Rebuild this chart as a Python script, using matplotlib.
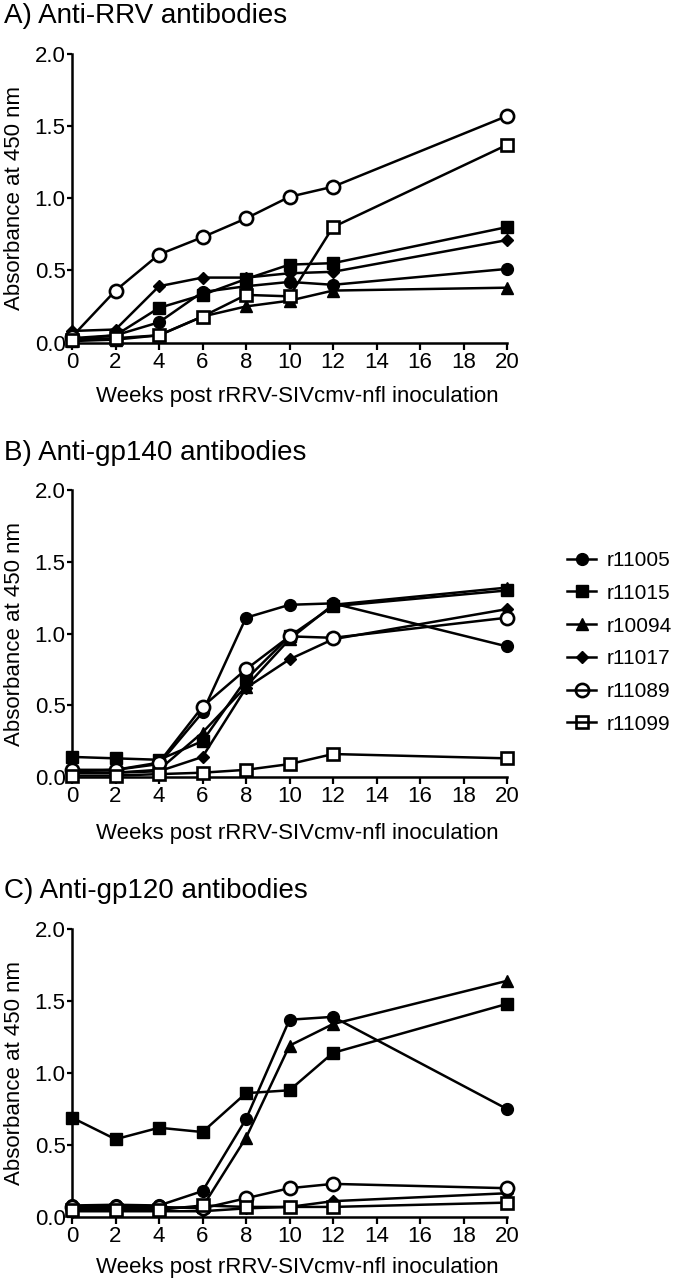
import matplotlib
matplotlib.use("Agg")
import matplotlib.pyplot as plt
from matplotlib.lines import Line2D
from matplotlib.ticker import FormatStrFormatter

plt.rcParams['font.family'] = ['Liberation Sans', 'DejaVu Sans']

weeks = [0, 2, 4, 6, 8, 10, 12, 20]
animals = ["r11005", "r11015", "r10094", "r11017", "r11089", "r11099"]

panel_titles = ["A) Anti-RRV antibodies", "B) Anti-gp140 antibodies", "C) Anti-gp120 antibodies"]
x_label = "Weeks post rRRV-SIVcmv-nfl inoculation"
y_label = "Absorbance at 450 nm"
x_ticks = [0, 2, 4, 6, 8, 10, 12, 14, 16, 18, 20]
y_ticks = [0.0, 0.5, 1.0, 1.5, 2.0]

# Panel A: anti-RRV
rrv_r11005 = [0.03, 0.05, 0.14, 0.35, 0.39, 0.42, 0.40, 0.51]
rrv_r11015 = [0.02, 0.05, 0.24, 0.33, 0.44, 0.54, 0.55, 0.80]
rrv_r10094 = [0.01, 0.02, 0.05, 0.18, 0.25, 0.29, 0.36, 0.38]
rrv_r11017 = [0.08, 0.09, 0.39, 0.45, 0.45, 0.48, 0.49, 0.71]
rrv_r11089 = [0.04, 0.36, 0.61, 0.73, 0.86, 1.01, 1.08, 1.57]
rrv_r11099 = [0.02, 0.03, 0.05, 0.18, 0.33, 0.32, 0.80, 1.37]

# Panel B: anti-gp140
gp140_r11005 = [0.04, 0.05, 0.09, 0.45, 1.11, 1.20, 1.21, 0.91]
gp140_r11015 = [0.14, 0.13, 0.12, 0.25, 0.68, 0.98, 1.19, 1.30]
gp140_r10094 = [0.03, 0.03, 0.05, 0.31, 0.63, 0.96, 1.20, 1.32]
gp140_r11017 = [0.03, 0.03, 0.04, 0.14, 0.62, 0.82, 0.96, 1.17]
gp140_r11089 = [0.05, 0.05, 0.10, 0.49, 0.75, 0.98, 0.97, 1.11]
gp140_r11099 = [0.01, 0.01, 0.02, 0.03, 0.05, 0.09, 0.16, 0.13]

# Panel C: anti-gp120
gp120_r11005 = [0.08, 0.085, 0.08, 0.18, 0.68, 1.37, 1.39, 0.75]
gp120_r11015 = [0.69, 0.54, 0.62, 0.59, 0.86, 0.88, 1.14, 1.48]
gp120_r10094 = [0.06, 0.06, 0.06, 0.07, 0.55, 1.19, 1.34, 1.64]
gp120_r11017 = [0.04, 0.04, 0.04, 0.04, 0.06, 0.07, 0.11, 0.165]
gp120_r11089 = [0.07, 0.07, 0.07, 0.06, 0.13, 0.20, 0.23, 0.20]
gp120_r11099 = [0.05, 0.05, 0.05, 0.08, 0.07, 0.07, 0.07, 0.10]

panels = [
    [rrv_r11005, rrv_r11015, rrv_r10094, rrv_r11017, rrv_r11089, rrv_r11099],
    [gp140_r11005, gp140_r11015, gp140_r10094, gp140_r11017, gp140_r11089, gp140_r11099],
    [gp120_r11005, gp120_r11015, gp120_r10094, gp120_r11017, gp120_r11089, gp120_r11099],
]

# marker styles: (marker, size, filled)
styles = [("o", 8.5, True), ("s", 8.0, True), ("^", 9.0, True),
          ("D", 6.5, True), ("o", 9.5, False), ("s", 9.0, False)]

W, H = 673, 1284
fig = plt.figure(figsize=(W / 100, H / 100), dpi=100)

def fx(px):
    return px / W

def fy(py):
    return 1 - py / H

ax_left, ax_right = 72, 507
ax_rows = [(54, 342.5), (490, 777), (929, 1217)]
title_base = [23, 460, 898]
xlabel_base = [402, 839, 1273]

for i, (top, bot) in enumerate(ax_rows):
    ax = fig.add_axes([fx(ax_left), fy(bot), fx(ax_right - ax_left), (bot - top) / H])
    for series, (mk, ms, filled) in zip(panels[i], styles):
        ax.plot(weeks, series, color="black", lw=1.8, marker=mk, ms=ms,
                mfc="black" if filled else "white", mec="black",
                mew=1.0 if filled else 1.9, clip_on=False, zorder=3)
    ax.set_xlim(0, 20)
    ax.set_ylim(0, 2.0)
    ax.set_xticks(x_ticks)
    ax.set_yticks(y_ticks)
    ax.yaxis.set_major_formatter(FormatStrFormatter("%.1f"))
    for s in ["top", "right"]:
        ax.spines[s].set_visible(False)
    for s in ["left", "bottom"]:
        ax.spines[s].set_linewidth(1.8)
        ax.spines[s].set_zorder(2)
    ax.tick_params(axis="x", length=5, width=1.6, pad=1.5, labelsize=16)
    ax.tick_params(axis="y", length=3.5, width=1.6, pad=1.0, labelsize=16)
    fig.text(fx(4), fy(title_base[i]), panel_titles[i], fontsize=20,
             ha="left", va="baseline")
    fig.text(fx(297), fy(xlabel_base[i]), x_label, fontsize=16,
             ha="center", va="baseline")
    fig.text(fx(15), fy((top + bot) / 2), y_label, fontsize=16,
             rotation=90, ha="center", va="center")

handles = [Line2D([], [], color="black", lw=1.8, marker=mk, ms=ms,
                  mfc="black" if filled else "none", mec="black",
                  mew=1.0 if filled else 1.9)
           for (mk, ms, filled) in styles]
fig.legend(handles, animals, loc="upper left",
           bbox_to_anchor=(fx(567), fy(551)), frameon=False, borderpad=0,
           borderaxespad=0, handlelength=1.4, handletextpad=0.5,
           labelspacing=0.66, fontsize=15)

fig.savefig("out.png", dpi=100)
